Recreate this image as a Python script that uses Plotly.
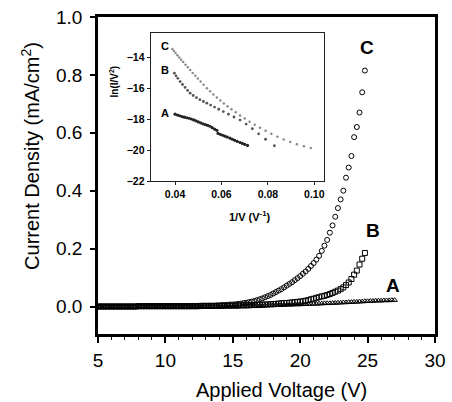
import plotly.graph_objects as go

# ---------------- data ----------------
voltage = [
    5.0, 5.2, 5.4, 5.6, 5.8, 6.0, 6.2, 6.4, 6.6, 6.8,
    7.0, 7.2, 7.4, 7.6, 7.8, 8.0, 8.2, 8.4, 8.6, 8.8,
    9.0, 9.2, 9.4, 9.6, 9.8, 10.0, 10.2, 10.4, 10.6, 10.8,
    11.0, 11.2, 11.4, 11.6, 11.8, 12.0, 12.2, 12.4, 12.6, 12.8,
    13.0, 13.2, 13.4, 13.6, 13.8, 14.0, 14.2, 14.4, 14.6, 14.8,
    15.0, 15.2, 15.4, 15.6, 15.8, 16.0, 16.2, 16.4, 16.6, 16.8,
    17.0, 17.2, 17.4, 17.6, 17.8, 18.0, 18.2, 18.4, 18.6, 18.8,
    19.0, 19.2, 19.4, 19.6, 19.8, 20.0, 20.2, 20.4, 20.6, 20.8,
    21.0, 21.2, 21.4, 21.6, 21.8, 22.0, 22.2, 22.4, 22.6, 22.8,
    23.0, 23.2, 23.4, 23.6, 23.8, 24.0, 24.2, 24.4, 24.6, 24.8,
    25.0, 25.2, 25.4, 25.6, 25.8, 26.0, 26.2, 26.4, 26.6, 26.8,
    27.0,
]

current_A = [
    0.000, 0.000, 0.000, 0.000, 0.000, 0.000, 0.000, 0.000, 0.000, 0.000,
    0.000, 0.000, 0.000, 0.000, 0.000, 0.000, 0.000, 0.000, 0.000, 0.000,
    0.000, 0.000, 0.000, 0.000, 0.000, 0.000, 0.000, 0.000, 0.000, 0.000,
    0.000, 0.000, 0.000, 0.000, 0.000, 0.000, 0.000, 0.000, 0.000, 0.000,
    0.001, 0.001, 0.001, 0.001, 0.001, 0.001, 0.001, 0.001, 0.001, 0.001,
    0.001, 0.001, 0.001, 0.001, 0.001, 0.002, 0.002, 0.002, 0.003, 0.003,
    0.003, 0.003, 0.004, 0.004, 0.004, 0.004, 0.005, 0.005, 0.005, 0.005,
    0.006, 0.006, 0.006, 0.007, 0.007, 0.007, 0.008, 0.008, 0.008, 0.009,
    0.009, 0.009, 0.010, 0.010, 0.011, 0.011, 0.011, 0.012, 0.012, 0.013,
    0.013, 0.014, 0.014, 0.015, 0.015, 0.016, 0.016, 0.017, 0.017, 0.018,
    0.018, 0.019, 0.019, 0.020, 0.020, 0.020, 0.021, 0.021, 0.021, 0.022,
    0.022,
]

current_B = [
    0.000, 0.000, 0.000, 0.000, 0.000, 0.000, 0.000, 0.000, 0.000, 0.000,
    0.000, 0.000, 0.000, 0.000, 0.000, 0.001, 0.001, 0.001, 0.001, 0.001,
    0.001, 0.001, 0.001, 0.001, 0.001, 0.001, 0.001, 0.001, 0.001, 0.001,
    0.001, 0.001, 0.001, 0.001, 0.001, 0.001, 0.001, 0.001, 0.002, 0.002,
    0.002, 0.002, 0.002, 0.002, 0.002, 0.002, 0.002, 0.003, 0.003, 0.003,
    0.003, 0.003, 0.003, 0.004, 0.004, 0.004, 0.004, 0.005, 0.005, 0.005,
    0.006, 0.006, 0.007, 0.007, 0.008, 0.008, 0.009, 0.010, 0.011, 0.012,
    0.012, 0.013, 0.014, 0.015, 0.016, 0.017, 0.018, 0.020, 0.022, 0.025,
    0.027, 0.030, 0.032, 0.035, 0.037, 0.040, 0.043, 0.047, 0.051, 0.055,
    0.060, 0.066, 0.074, 0.083, 0.095, 0.110, 0.124, 0.145, 0.165, 0.185,
]

current_C = [
    0.000, 0.000, 0.000, 0.000, 0.000, 0.000, 0.000, 0.000, 0.000, 0.000,
    0.000, 0.000, 0.000, 0.000, 0.000, 0.001, 0.001, 0.001, 0.001, 0.001,
    0.001, 0.001, 0.001, 0.001, 0.001, 0.001, 0.001, 0.001, 0.001, 0.001,
    0.001, 0.001, 0.001, 0.001, 0.001, 0.002, 0.002, 0.002, 0.002, 0.003,
    0.003, 0.003, 0.003, 0.003, 0.004, 0.004, 0.005, 0.005, 0.006, 0.007,
    0.007, 0.008, 0.009, 0.010, 0.012, 0.013, 0.015, 0.017, 0.019, 0.022,
    0.025, 0.028, 0.032, 0.036, 0.040, 0.045, 0.050, 0.055, 0.060, 0.066,
    0.072, 0.078, 0.084, 0.091, 0.098, 0.105, 0.113, 0.121, 0.130, 0.140,
    0.150, 0.162, 0.175, 0.192, 0.210, 0.230, 0.255, 0.280, 0.310, 0.340,
    0.370, 0.400, 0.445, 0.480, 0.520, 0.585, 0.620, 0.670, 0.740, 0.815,
]

# inset: ln(I/V^2) versus 1/V
inset_C_x = [0.0388, 0.0395, 0.0402, 0.0410, 0.0418, 0.0426, 0.0435, 0.0445, 0.0455, 0.0465,
             0.0476, 0.0487, 0.0498, 0.0510, 0.0523, 0.0537, 0.0551, 0.0565, 0.0580, 0.0595,
             0.0610, 0.0626, 0.0643, 0.0661, 0.0680, 0.0700, 0.0721, 0.0743, 0.0766, 0.0790,
             0.0815, 0.0841, 0.0868, 0.0896, 0.0925, 0.0955, 0.0985]
inset_C_y = [-13.46, -13.59, -13.72, -13.87, -14.02, -14.16, -14.31, -14.48, -14.65, -14.82,
             -15.01, -15.19, -15.37, -15.57, -15.78, -16.00, -16.20, -16.40, -16.60, -16.80,
             -16.99, -17.17, -17.36, -17.56, -17.76, -17.96, -18.16, -18.36, -18.56, -18.75,
             -18.94, -19.13, -19.31, -19.48, -19.63, -19.76, -19.87]

inset_B_x = [0.0397, 0.0404, 0.0412, 0.0422, 0.0432, 0.0443, 0.0454, 0.0465, 0.0478, 0.0492,
             0.0507, 0.0522, 0.0537, 0.0553, 0.0570, 0.0588, 0.0608, 0.0630, 0.0654, 0.0680,
             0.0706, 0.0733, 0.0760, 0.0790, 0.0828]
inset_B_y = [-15.03, -15.20, -15.36, -15.57, -15.76, -15.95, -16.14, -16.32, -16.47, -16.61,
             -16.74, -16.86, -16.97, -17.09, -17.22, -17.36, -17.51, -17.68, -17.86, -18.06,
             -18.32, -18.62, -18.95, -19.30, -19.72]

inset_A_x = [0.0400, 0.0410, 0.0420, 0.0430, 0.0440, 0.0450, 0.0460, 0.0470, 0.0480, 0.0490,
             0.0500, 0.0510, 0.0520, 0.0530, 0.0540, 0.0550, 0.0560, 0.0570, 0.0580, 0.0585,
             0.0595, 0.0605, 0.0615, 0.0625, 0.0637, 0.0647, 0.0657, 0.0668, 0.0680, 0.0690,
             0.0700, 0.0712]
inset_A_y = [-17.68, -17.73, -17.78, -17.83, -17.87, -17.91, -17.94, -17.99, -18.05, -18.11,
             -18.18, -18.24, -18.30, -18.35, -18.40, -18.46, -18.55, -18.64, -18.72, -18.92,
             -18.98, -19.04, -19.10, -19.16, -19.23, -19.30, -19.37, -19.44, -19.51, -19.57,
             -19.63, -19.70]

main_xticks = [5, 10, 15, 20, 25, 30]
main_yticks = [0.0, 0.2, 0.4, 0.6, 0.8, 1.0]
main_yticktext = ["0.0", "0.2", "0.4", "0.6", "0.8", "1.0"]
inset_xticks = [0.04, 0.06, 0.08, 0.10]
inset_xticktext = ["0.04", "0.06", "0.08", "0.10"]
inset_yticks = [-22, -20, -18, -16, -14]

FONT = "Liberation Sans, Arial, sans-serif"

fig = go.Figure()

n_bc = len(current_B)
fig.add_trace(go.Scatter(
    x=voltage, y=current_A, mode="markers",
    marker=dict(symbol="triangle-up-open", size=5, color="black", line=dict(width=1, color="black")),
    xaxis="x", yaxis="y", hoverinfo="skip"))
fig.add_trace(go.Scatter(
    x=voltage[:n_bc], y=current_B, mode="markers",
    marker=dict(symbol="square-open", size=5, color="black", line=dict(width=1, color="black")),
    xaxis="x", yaxis="y", hoverinfo="skip"))
fig.add_trace(go.Scatter(
    x=voltage[:len(current_C)], y=current_C, mode="markers",
    marker=dict(symbol="circle-open", size=5, color="black", line=dict(width=1, color="black")),
    xaxis="x", yaxis="y", hoverinfo="skip"))

fig.add_trace(go.Scatter(
    x=inset_C_x, y=inset_C_y, mode="markers",
    marker=dict(symbol="circle", size=2.5, color="#8a8a8a"),
    xaxis="x2", yaxis="y2", hoverinfo="skip"))
fig.add_trace(go.Scatter(
    x=inset_B_x, y=inset_B_y, mode="markers",
    marker=dict(symbol="circle", size=2.8, color="#555555"),
    xaxis="x2", yaxis="y2", hoverinfo="skip"))
fig.add_trace(go.Scatter(
    x=inset_A_x, y=inset_A_y, mode="markers",
    marker=dict(symbol="circle", size=3.2, color="#222222"),
    xaxis="x2", yaxis="y2", hoverinfo="skip"))

annotations = [
    dict(text="Current Density (mA/cm<sup>2</sup>)", xref="paper", yref="paper",
         x=-0.202, y=0.5615, textangle=-90, showarrow=False,
         font=dict(family=FONT, size=20, color="black"), xanchor="center", yanchor="middle"),
    dict(text="Applied Voltage (V)", xref="paper", yref="paper",
         x=0.545, y=-0.177, showarrow=False,
         font=dict(family=FONT, size=20, color="black"), xanchor="center", yanchor="middle"),
    dict(text="ln(I/V<sup>2</sup>)", xref="paper", yref="paper",
         x=0.046, y=0.795, textangle=-90, showarrow=False,
         font=dict(family=FONT, size=10, color="black", weight="bold"), xanchor="center", yanchor="middle"),
    dict(text="1/V (V<sup>-1</sup>)", xref="paper", yref="paper",
         x=0.451, y=0.372, showarrow=False,
         font=dict(family=FONT, size=11, color="black", weight="bold"), xanchor="center", yanchor="middle"),
]
for lab, xv, yv in [("C", 24.93, 0.893), ("B", 25.4, 0.264), ("A", 26.86, 0.074)]:
    annotations.append(dict(text=lab, xref="x", yref="y", x=xv, y=yv, showarrow=False,
                            font=dict(family=FONT, size=19, color="black", weight="bold"),
                            xanchor="center", yanchor="middle"))
for lab, xv, yv in [("C", 0.0357, -13.27), ("B", 0.0357, -14.82), ("A", 0.0357, -17.61)]:
    annotations.append(dict(text=lab, xref="x2", yref="y2", x=xv, y=yv, showarrow=False,
                            font=dict(family=FONT, size=11, color="black", weight="bold"),
                            xanchor="center", yanchor="middle"))

fig.update_layout(
    width=452, height=402,
    margin=dict(l=98, r=17, t=17, b=68, autoexpand=False),
    paper_bgcolor="white", plot_bgcolor="white",
    showlegend=False,
    font=dict(family=FONT, color="black"),
    annotations=annotations,
    xaxis=dict(domain=[0, 1], range=[5, 30], anchor="y", automargin=False,
               tickvals=main_xticks, ticks="outside", ticklen=6, tickwidth=1.5, tickcolor="black",
               showline=True, linewidth=2.5, linecolor="black", mirror=True,
               showgrid=False, zeroline=False, tickfont=dict(size=19, family=FONT),
               ticklabelstandoff=1,
               minor=dict(dtick=1, ticks="outside", ticklen=3, tickwidth=1, tickcolor="black", showgrid=False)),
    yaxis=dict(domain=[0, 1], range=[-0.095, 1.0], anchor="x", automargin=False,
               tickvals=main_yticks, ticktext=main_yticktext, ticks="outside", ticklen=5,
               tickwidth=1.5, tickcolor="black",
               showline=True, linewidth=2.5, linecolor="black", mirror=True,
               showgrid=False, zeroline=False, tickfont=dict(size=19, family=FONT),
               ticklabelstandoff=4),
    xaxis2=dict(domain=[0.1564, 0.6715], range=[0.0295, 0.1043], anchor="y2", automargin=False,
                tickvals=inset_xticks, ticktext=inset_xticktext, ticks="outside", ticklen=3,
                tickwidth=1, tickcolor="#222",
                showline=True, linewidth=1.2, linecolor="#222", mirror=True,
                showgrid=False, zeroline=False,
                tickfont=dict(size=10.5, family=FONT, weight="bold")),
    yaxis2=dict(domain=[0.4826, 0.9495], range=[-22, -12.43], anchor="x2", automargin=False,
                tickvals=inset_yticks, ticks="outside", ticklen=3,
                tickwidth=1, tickcolor="#222",
                showline=True, linewidth=1.2, linecolor="#222", mirror=True,
                showgrid=False, zeroline=False,
                tickfont=dict(size=10.5, family=FONT, weight="bold")),
)

fig.write_html("out.html", config={"displayModeBar": False},
               post_script="document.body.style.margin='0';document.body.style.overflow='hidden';")
